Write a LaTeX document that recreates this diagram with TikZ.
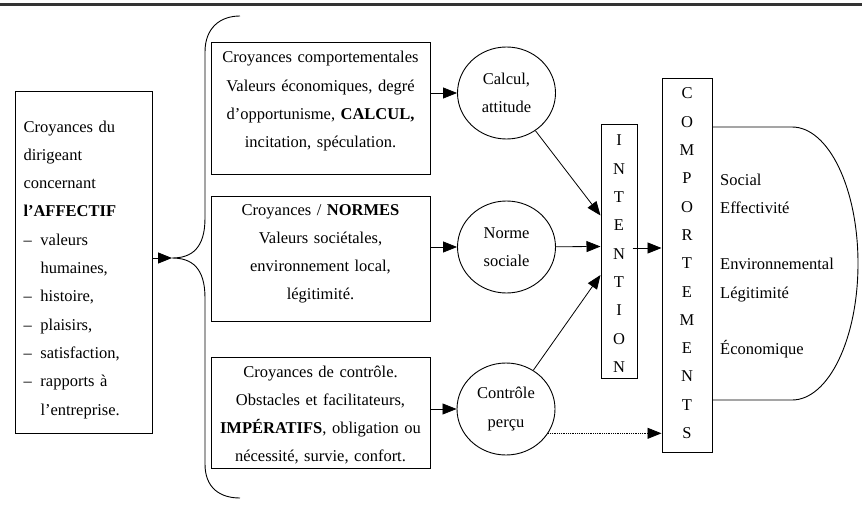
\documentclass[tikz,border=0pt]{standalone}
\usepackage{fontspec}
\setmainfont{Liberation Serif}
\usetikzlibrary{arrows.meta,shapes.geometric}
\tikzset{
  every node/.style={font=\fontsize{16.5pt}{28.3pt}\selectfont},
  box/.style={draw,line width=1pt,inner xsep=0pt,inner ysep=0pt,text width=219pt,align=center,anchor=base},
  bulle/.style={draw,ellipse,line width=0.9pt,inner sep=0pt,minimum width=98pt,minimum height=92pt,align=center},
  colonne/.style={draw,line width=1pt,inner xsep=0pt,inner ysep=0pt,align=center,anchor=base},
  arr/.style={-{Triangle[length=14pt,width=11pt]},line width=0.8pt}
}
\begin{document}
\begin{tikzpicture}[x=1pt,y=-1pt]
      \useasboundingbox (0,0) rectangle (862,508);
      \draw[line width=3pt,black!80] (0,5) -- (862,5);
      \node[draw,line width=1pt,anchor=base west,inner xsep=8pt,inner ysep=0pt,text width=121pt,align=left,
            text height=40pt,text depth=301pt] (affectif) at (15,132)
        {Croyances du\\ dirigeant\\ concernant\\ \textbf{l’AFFECTIF}\\
         \makebox[17pt][l]{–}valeurs\\ \hspace*{17pt}humaines,\\ \makebox[17pt][l]{–}histoire,\\
         \makebox[17pt][l]{–}plaisirs,\\ \makebox[17pt][l]{–}satisfaction,\\
         \makebox[17pt][l]{–}rapports à\\ \hspace*{17pt}l’entreprise.};
      \coordinate (cusp) at (172,258);
      \draw[line width=0.9pt] (240,16) .. controls (220,16) and (205,28) .. (205,52) -- (205,218)
        .. controls (205,248) and (192,258) .. (cusp) .. controls (192,258) and (205,268) .. (205,298)
        -- (205,464) .. controls (205,488) and (220,498) .. (240,498);
      \draw[arr] (affectif.east |- cusp) -- (cusp);
      \node[box,text height=20pt,text depth=111pt] (comportementales) at (320.5,63)
        {Croyances comportementales\\ Valeurs économiques, degré\\ d’opportunisme, \textbf{CALCUL,}\\ incitation, spéculation.};
      \node[box,text height=19pt,text depth=106pt] (normes) at (320.5,215)
        {Croyances / \textbf{NORMES}\\ Valeurs sociétales,\\ environnement local,\\ légitimité.};
      \node[box,text height=20pt,text depth=91pt] (controle) at (320.5,377)
        {Croyances de contrôle.\\ Obstacles et facilitateurs,\\ \textbf{IMPÉRATIFS}, obligation ou\\ nécessité, survie, confort.};
      \node[bulle] (calcul) at (506.5,93) {Calcul,\\ attitude};
      \node[bulle] (norme) at (506.5,247) {Norme\\ sociale};
      \node[bulle] (percu) at (506,409) {Contrôle\\ perçu};
      \node[colonne,text width=36pt,text height=21pt,text depth=232pt] (intention) at (619,146)
        {I\\ N\\ T\\ E\\ N\\ T\\ I\\ O\\ N};
      \node[colonne,text width=50pt,text height=20pt,text depth=353pt] (comport) at (687,99)
        {C\\ O\\ M\\ P\\ O\\ R\\ T\\ E\\ M\\ E\\ N\\ T\\ S};
      \draw[arr] (comportementales.east |- calcul.west) -- (calcul.west);
      \draw[arr] (normes.east |- norme.west) -- (norme.west);
      \draw[arr] (controle.east |- percu.west) -- (percu.west);
      \draw[arr] (calcul) -- ([yshift=36pt]intention.west);
      \draw[arr] (norme) -- ([yshift=5pt]intention.west);
      \draw[arr] (percu) -- ([yshift=-23.5pt]intention.west);
      \draw[arr] ([xshift=-5pt,yshift=3.5pt]intention.east) -- ([yshift=17.5pt]comport.west);
      \draw[arr,densely dotted] (percu.-30) -- (percu.-30 -| comport.west);
      \coordinate (dtop) at (792,127);
      \coordinate (dbot) at (792,400);
      \draw[line width=0.9pt] (comport.east |- dtop) -- (dtop)
        arc[start angle=-90,end angle=90,x radius=66,y radius=136.5] -- (comport.east |- dbot);
      \node[anchor=base west,inner sep=0pt,text width=135pt,align=left] (piliers) at (720,185)
        {Social\\ Effectivité\\[28.3pt] Environnemental\\ Légitimité\\[28.3pt] Économique};
\end{tikzpicture}
\end{document}
